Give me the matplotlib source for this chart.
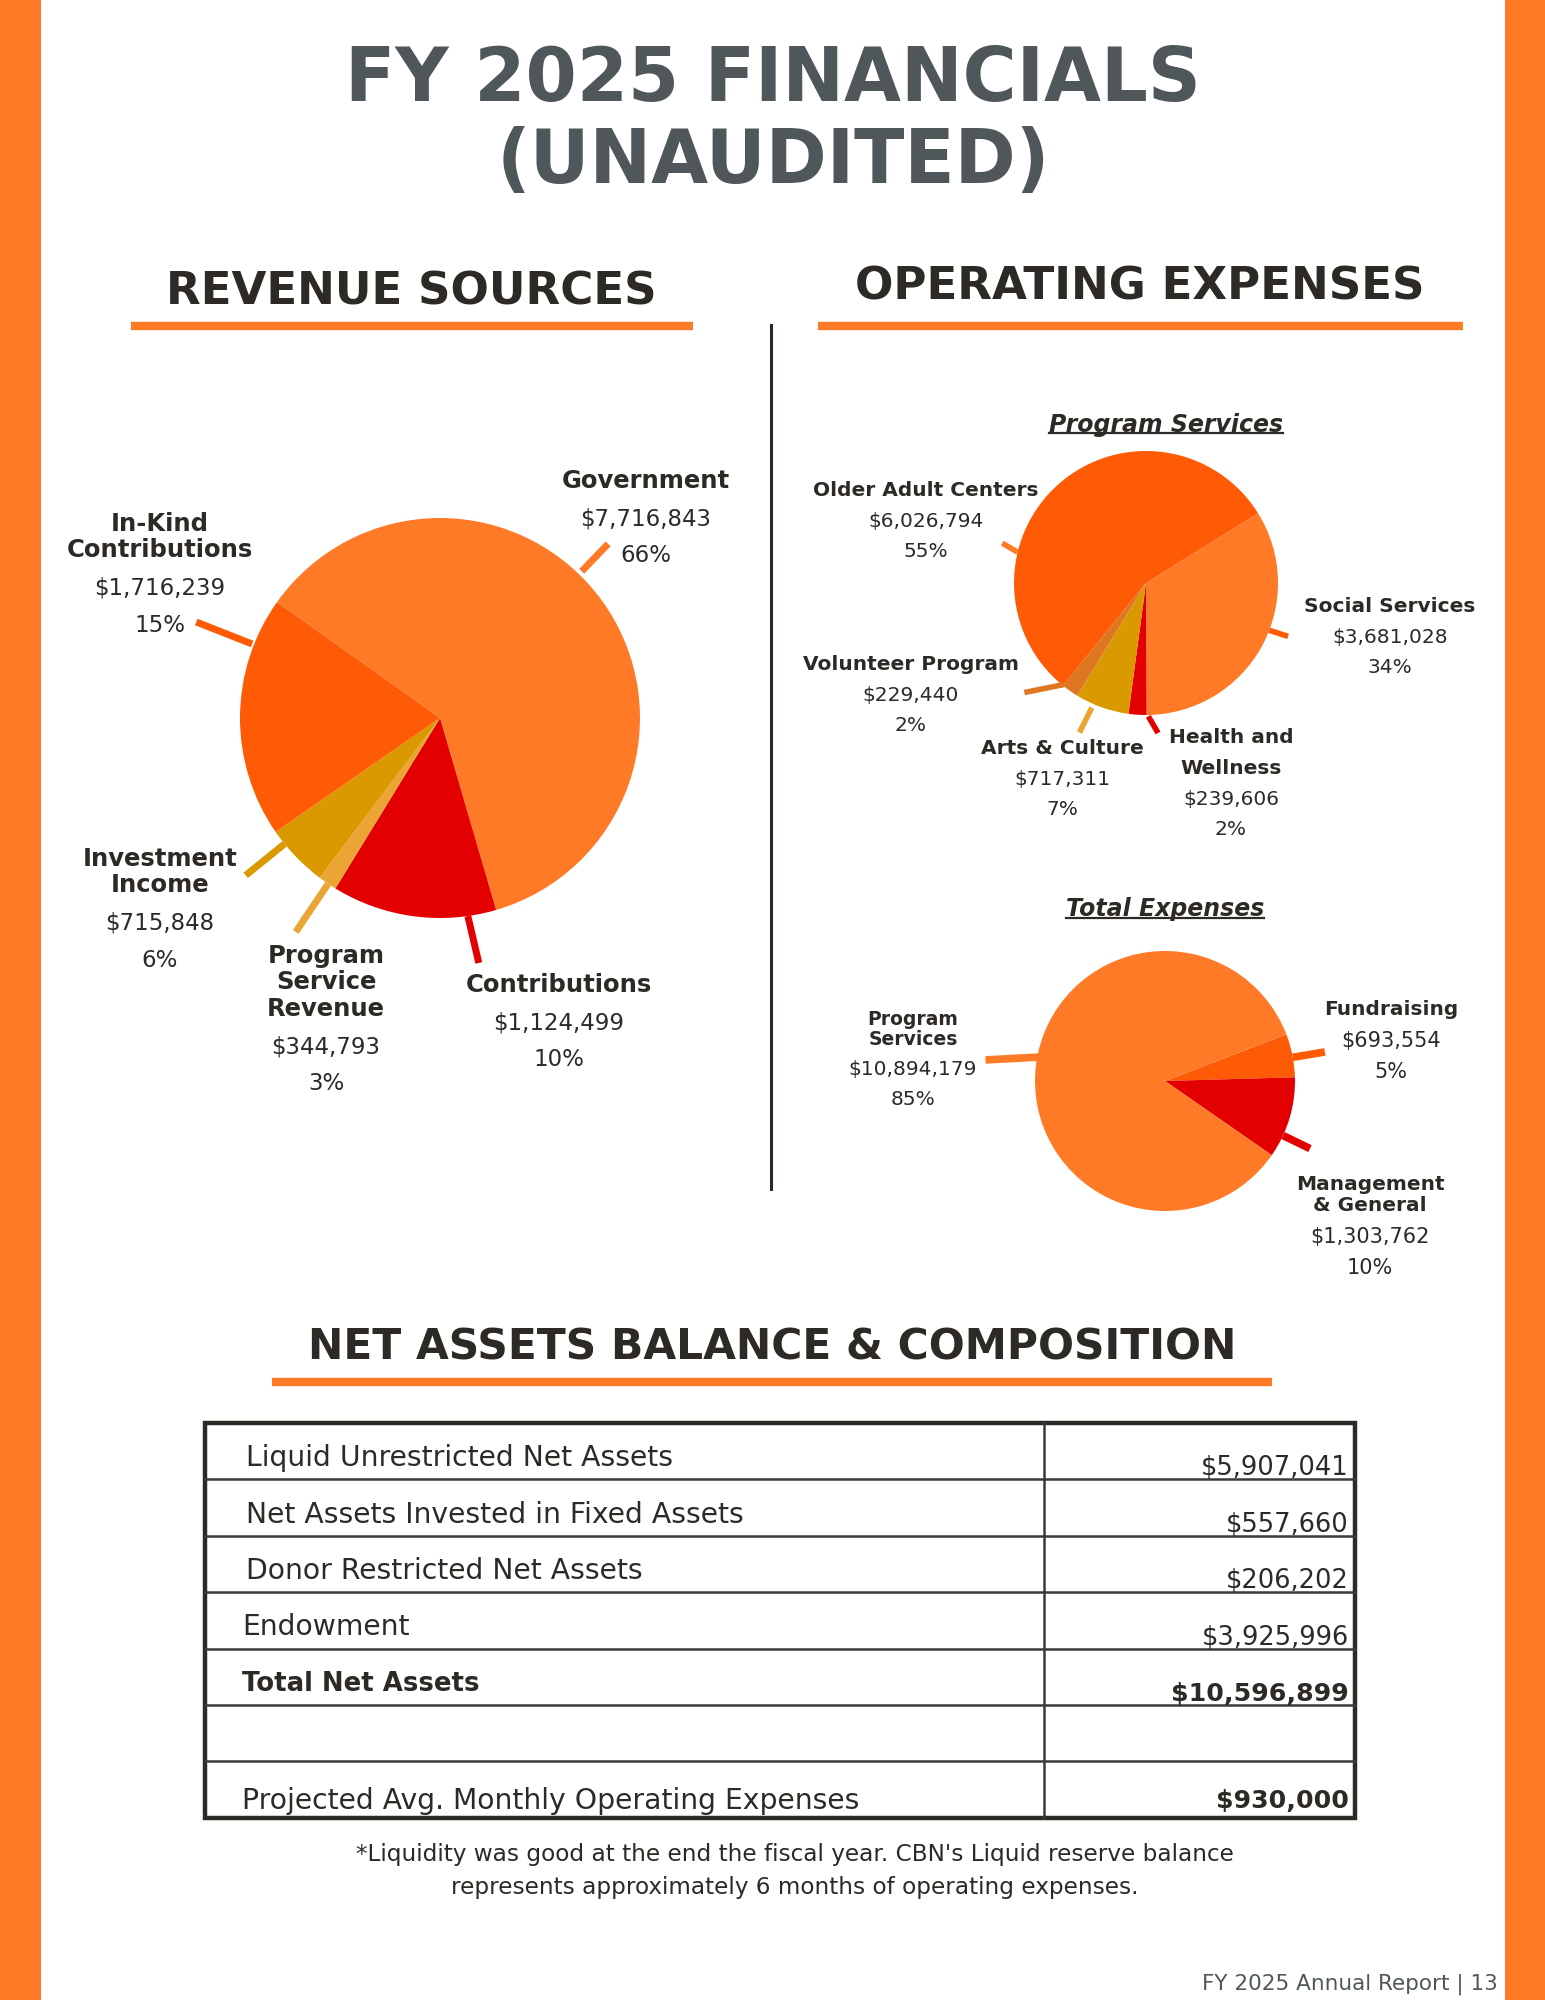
import numpy as np
import matplotlib
matplotlib.use("Agg")
import matplotlib.pyplot as plt
from matplotlib.patches import Rectangle

W, H = 1545, 2000

ORANGE = "#FF7A26"
REDORANGE = "#FF5A05"
RED = "#E30000"
GOLD = "#DB9900"
LIGHTGOLD = "#EBA535"
BROWN = "#DD7722"
DARK = "#2d2a26"
SLATE = "#4f575a"

# --- revenue sources (clockwise from the top-left edge of Government)
rev_names = ["Government", "Contributions", "Program\nService\nRevenue",
             "Investment\nIncome", "In-Kind\nContributions"]
rev_amounts = [7716843, 1124499, 344793, 715848, 1716239]
rev_pcts = [66, 10, 3, 6, 15]
# wedge shares as drawn in the reference pie (not proportional to the amounts)
rev_wedges = [60.7, 13.3, 1.5, 5.1, 19.5]
rev_colors = [ORANGE, RED, LIGHTGOLD, GOLD, REDORANGE]

# --- operating expenses: program services
prog_names = ["Social Services", "Health and\nWellness", "Arts & Culture",
              "Volunteer Program", "Older Adult Centers"]
prog_amounts = [3681028, 239606, 717311, 229440, 6026794]
prog_pcts = [34, 2, 7, 2, 55]
prog_colors = [ORANGE, RED, GOLD, BROWN, REDORANGE]

# --- operating expenses: total expenses
tot_names = ["Fundraising", "Management\n& General", "Program\nServices"]
tot_amounts = [693554, 1303762, 10894179]
tot_pcts = [5, 10, 85]
tot_colors = [REDORANGE, RED, ORANGE]

# --- net assets table
net_labels = ["Liquid Unrestricted Net Assets", "Net Assets Invested in Fixed Assets",
              "Donor Restricted Net Assets", "Endowment", "Total Net Assets", "",
              "Projected Avg. Monthly Operating Expenses"]
net_values = [5907041, 557660, 206202, 3925996, 10596899, None, 930000]
label_bold = [False, False, False, False, True, False, False]
value_bold = [False, False, False, False, True, False, True]


fig = plt.figure(figsize=(W / 100, H / 100), dpi=100)
bg = fig.add_axes([0, 0, 1, 1])
bg.set_xlim(0, W)
bg.set_ylim(H, 0)
bg.axis("off")

FONT = "DejaVu Sans"


def txt(x, yc, s, size, weight="normal", color=DARK, ha="center", style="normal"):
    # yc = middle of the capital letters, in pixels from the top
    px = size * 100 / 72
    return bg.text(x, yc + 0.3645 * px, s, fontsize=size, fontweight=weight, color=color,
                   ha=ha, va="baseline", family=FONT, style=style, parse_math=False)


# side bars
bg.add_patch(Rectangle((0, 0), 41, H, color=ORANGE, lw=0))
bg.add_patch(Rectangle((1505, 0), 40, H, color=ORANGE, lw=0))

# titles
txt(773, 74.5, "FY 2025 FINANCIALS", 53, "bold", SLATE)
txt(773, 156.5, "(UNAUDITED)", 53, "bold", SLATE)

txt(411, 288, "REVENUE SOURCES", 32.5, "bold", DARK)
txt(1140, 283, "OPERATING EXPENSES", 32.5, "bold", DARK)
bg.plot([131, 693], [326, 326], color=ORANGE, lw=6, solid_capstyle="butt")
bg.plot([818, 1463], [326, 326], color=ORANGE, lw=6, solid_capstyle="butt")
bg.plot([771, 771], [325, 1189], color=DARK, lw=2.2)


def pie_axes(cx, cy, r, pad=1.6):
    s = r * pad
    ax = fig.add_axes([(cx - s) / W, 1 - (cy + s) / H, 2 * s / W, 2 * s / H])
    ax.axis("off")
    return ax, pad


def draw_pie(axp, values, colors, start):
    ax, pad = axp
    ax.pie(values, colors=colors, startangle=start, counterclock=False,
           radius=1, wedgeprops=dict(linewidth=0))
    # pie() resets the limits, so set them afterwards
    ax.set_xlim(-pad, pad)
    ax.set_ylim(-pad, pad)
    ax.set_aspect("equal")
    return ax


def leaders(ax, spec, colors, lw):
    for (a0, r0, a1, r1), c in zip(spec, colors):
        t0, t1 = np.radians(a0), np.radians(a1)
        ax.plot([r0 * np.cos(t0), r1 * np.cos(t1)], [r0 * np.sin(t0), r1 * np.sin(t1)],
                color=c, lw=lw, solid_capstyle="butt")


def labels(names, amounts, pcts, pos, size_name, size_val, name_lh, gap_amt, gap_pct):
    for name, amt, pct, (x, y) in zip(names, amounts, pcts, pos):
        for line in name.split("\n"):
            txt(x, y, line, size_name, "bold")
            y += name_lh
        y += gap_amt - name_lh
        txt(x, y, f"${amt:,}", size_val)
        txt(x, y + gap_pct, f"{pct}%", size_val)


# ---- revenue pie
ax_rev = draw_pie(pie_axes(440, 718, 200), rev_wedges, rev_colors, 144.6)
leaders(ax_rev, [(46, 1.02, 46, 1.21), (278, 1.0, 279, 1.24), (236, 1.0, 236, 1.29),
                 (219, 1.0, 219, 1.25), (158.5, 1.01, 158.5, 1.31)], rev_colors, 5)
labels(rev_names, rev_amounts, rev_pcts,
       [(646, 479), (559, 983), (326, 954), (160, 857), (160, 522)],
       17.5, 16.5, 26.5, 38, 37)

# ---- program services pie
t = txt(1166, 423, "Program Services", 17, "bold", DARK, style="italic")
ax_prog = draw_pie(pie_axes(1146, 583, 132), prog_amounts, prog_colors, 31.9)
leaders(ax_prog, [(-21, 1.0, -20.6, 1.15), (271, 1.01, 274.6, 1.14), (246.5, 1.03, 246, 1.24),
                  (231, 0.99, 222, 1.24), (166.5, 1.0, 164.5, 1.13)],
        [REDORANGE, RED, LIGHTGOLD, BROWN, ORANGE], 4)
labels(prog_names, prog_amounts, prog_pcts,
       [(1390, 605), (1231, 736), (1062, 747), (911, 663), (926, 489)],
       14.5, 14.5, 31, 31, 30)

# ---- total expenses pie
t2 = txt(1165, 907, "Total Expenses", 17, "bold", DARK, style="italic")
ax_tot = draw_pie(pie_axes(1165, 1081, 130), tot_amounts, tot_colors, 21)
leaders(ax_tot, [(10.5, 1.0, 10.3, 1.25), (-24.8, 1.0, -25, 1.23), (169.3, 0.99, 173.3, 1.39)],
        tot_colors, 5.5)
labels(tot_names[:2], tot_amounts[:2], tot_pcts[:2], [(1391, 1008), (1370, 1183)],
       14.5, 15, 21, 31, 31)
labels(tot_names[2:], tot_amounts[2:], tot_pcts[2:], [(913, 1018)],
       13.5, 14.5, 20, 30, 30)

# underline the two italic subtitles
fig.canvas.draw()
rend = fig.canvas.get_renderer()
for tt, uy in [(t, 433), (t2, 918)]:
    bb = tt.get_window_extent(rend)
    bg.plot([bb.x0, bb.x1], [uy, uy], color=DARK, lw=1.6)

# ---- net assets
txt(772, 1344, "NET ASSETS BALANCE & COMPOSITION", 30.5, "bold", DARK)
bg.plot([272, 1272], [1382, 1382], color=ORANGE, lw=6, solid_capstyle="butt")

tx0, tx1, tcol = 205, 1355, 1044
ty0, row_h = 1423, 56.4
n = len(net_labels)
for i in range(1, n):
    y = ty0 + i * row_h
    bg.plot([tx0, tx1], [y, y], color="#3a3a3a", lw=1.8)
bg.plot([tcol, tcol], [ty0, ty0 + n * row_h], color="#3a3a3a", lw=1.8)
bg.add_patch(Rectangle((tx0, ty0), tx1 - tx0, n * row_h, fill=False,
                       ec=DARK, lw=3.2))
for i, (lab, val) in enumerate(zip(net_labels, net_values)):
    top = ty0 + i * row_h
    last = i == n - 1
    if lab:
        txt(242 if i >= 3 else 246, top + (37 if last else 33), lab,
            18.7 if label_bold[i] else 20.3,
            "bold" if label_bold[i] else "normal", ha="left")
    if val is not None:
        txt(1349, top + (37 if last else 43), f"${val:,}",
            18.2 if value_bold[i] else 18.5, "bold" if value_bold[i] else "normal", ha="right")

txt(795, 1853, "*Liquidity was good at the end the fiscal year. CBN's Liquid reserve balance", 16.7)
txt(795, 1886, "represents approximately 6 months of operating expenses.", 16.7)

txt(1498, 1982, "FY 2025 Annual Report | 13", 15.5, color=SLATE, ha="right")

fig.savefig("out.png", dpi=100)
